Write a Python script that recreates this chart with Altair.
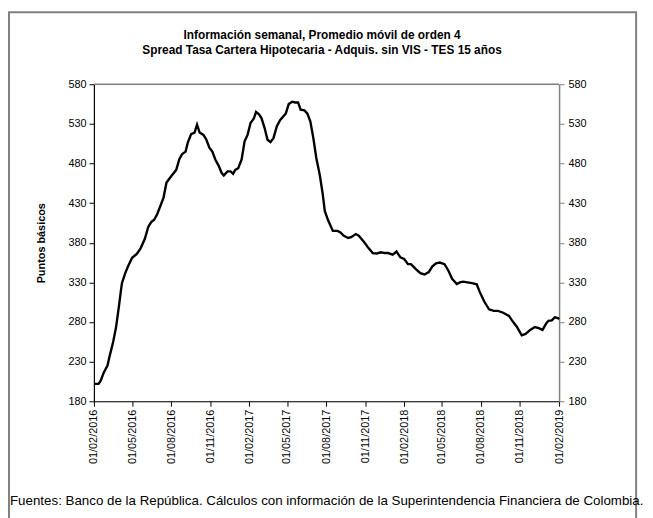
import altair as alt
import pandas as pd

# ---------------- data ----------------
dates = [
    "2016-02-01", "2016-02-12", "2016-02-17", "2016-02-24", "2016-03-04", "2016-03-09",
    "2016-03-17", "2016-03-24", "2016-03-31", "2016-04-04", "2016-04-07", "2016-04-15",
    "2016-04-22", "2016-05-01", "2016-05-12", "2016-05-21", "2016-05-31", "2016-06-08",
    "2016-06-15", "2016-06-22", "2016-06-29", "2016-07-07", "2016-07-14", "2016-07-21",
    "2016-08-01", "2016-08-13", "2016-08-20", "2016-08-27", "2016-09-04", "2016-09-09",
    "2016-09-17", "2016-09-25", "2016-10-01", "2016-10-07", "2016-10-16", "2016-10-23",
    "2016-10-30", "2016-11-06", "2016-11-13", "2016-11-21", "2016-11-28", "2016-12-03",
    "2016-12-12", "2016-12-19", "2016-12-25", "2016-12-30", "2017-01-06", "2017-01-14",
    "2017-01-21", "2017-01-28", "2017-02-04", "2017-02-12", "2017-02-17", "2017-02-24",
    "2017-03-02", "2017-03-09", "2017-03-16", "2017-03-23", "2017-03-30", "2017-04-07",
    "2017-04-15", "2017-04-23", "2017-04-28", "2017-05-05", "2017-05-13", "2017-05-20",
    "2017-05-27", "2017-06-02", "2017-06-11", "2017-06-18", "2017-06-25", "2017-07-02",
    "2017-07-09", "2017-07-17", "2017-07-24", "2017-07-29", "2017-08-06", "2017-08-17",
    "2017-08-28", "2017-09-04", "2017-09-11", "2017-09-22", "2017-09-29", "2017-10-10",
    "2017-10-17", "2017-10-28", "2017-11-08", "2017-11-19", "2017-11-29", "2017-12-08",
    "2017-12-18", "2017-12-25", "2018-01-05", "2018-01-14", "2018-01-23", "2018-02-01",
    "2018-02-10", "2018-02-17", "2018-02-28", "2018-03-11", "2018-03-21", "2018-03-31",
    "2018-04-08", "2018-04-17", "2018-04-26", "2018-05-07", "2018-05-16", "2018-05-25",
    "2018-06-05", "2018-06-12", "2018-06-20", "2018-06-30", "2018-07-11", "2018-07-22",
    "2018-07-29", "2018-08-09", "2018-08-20", "2018-08-31", "2018-09-10", "2018-09-21",
    "2018-10-06", "2018-10-13", "2018-10-24", "2018-11-05", "2018-11-14", "2018-11-25",
    "2018-12-06", "2018-12-15", "2018-12-24", "2019-01-02", "2019-01-07", "2019-01-15",
    "2019-01-22", "2019-01-29", "2019-02-01",
]
spread = [
    202, 202, 206, 216, 225, 237,
    254, 273, 300, 317, 329, 342,
    351, 361, 366, 373, 385, 400,
    406, 409, 416, 427, 437, 456,
    464, 472, 485, 492, 495, 506,
    517, 519, 529, 519, 516, 510,
    500, 495, 485, 477, 468, 465,
    470, 470, 467, 472, 474, 485,
    508, 516, 531, 537, 545, 542,
    537, 525, 510, 507, 512, 527,
    535, 540, 543, 555, 558, 557,
    557, 548, 547, 543, 533, 512,
    487, 466, 442, 420, 408, 395,
    395, 393, 389, 386, 387, 391,
    389, 382, 374, 367, 366.5, 368,
    367, 367, 365, 369, 361.5, 359.5,
    353, 353, 347, 341.6, 340, 343,
    350, 354, 355, 353, 345, 334.6,
    328, 330, 331, 330, 329, 327.5,
    318, 305.5, 296, 294, 294, 292,
    287.7, 282, 274.4, 263.2, 265, 270,
    273.6, 272.3, 270, 278.5, 281.5, 282,
    286, 285, 283.5,
]

title_lines = [
    "Información semanal, Promedio móvil de orden 4",
    "Spread Tasa Cartera Hipotecaria - Adquis. sin VIS -  TES 15 años",
]
y_title = "Puntos básicos"
y_ticks = [180, 230, 280, 330, 380, 430, 480, 530, 580]
x_ticks = [
    (2016, 2, 1), (2016, 5, 1), (2016, 8, 1), (2016, 11, 1),
    (2017, 2, 1), (2017, 5, 1), (2017, 8, 1), (2017, 11, 1),
    (2018, 2, 1), (2018, 5, 1), (2018, 8, 1), (2018, 11, 1),
    (2019, 2, 1),
]
footnote = "Fuentes: Banco de la República. Cálculos con información de la Superintendencia Financiera de Colombia."

# ---------------- chart ----------------
FONT = "Liberation Sans"
W, H = 471, 321
PAD_L, PAD_T = 87, 74
SVG_W, SVG_H = 645, 510

df = pd.DataFrame({"fecha": dates, "spread": spread})


def dt(t):
    return alt.DateTime(year=t[0], month=t[1], date=t[2], utc=True)


x_scale = alt.Scale(type="utc", domain=[dt(x_ticks[0]), dt(x_ticks[-1])], nice=False)
y_scale = alt.Scale(domain=[y_ticks[0], y_ticks[-1]], nice=False, zero=False)

x_axis = alt.Axis(
    values=[dt(t) for t in x_ticks],
    format="%d/%m/%Y",
    labelAngle=-90,
    labelFont=FONT,
    labelFontSize=11,
    labelColor="black",
    labelPadding=3,
    domainColor="black",
    domainWidth=1.2,
    tickColor="black",
    tickSize=5,
    grid=False,
    labelOverlap=False,
)
x_enc = alt.X("fecha:T", scale=x_scale, title=None, axis=x_axis)

line = alt.Chart(df).mark_line(color="black", strokeWidth=2.4).encode(
    x=x_enc,
    y=alt.Y(
        "spread:Q",
        scale=y_scale,
        axis=alt.Axis(
            values=y_ticks,
            orient="left",
            title=y_title,
            titleFont=FONT,
            titleFontSize=11,
            titleFontWeight="bold",
            titleColor="black",
            titlePadding=22,
            labelFont=FONT,
            labelFontSize=11,
            labelColor="black",
            labelPadding=3,
            domainColor="black",
            domainWidth=1.2,
            tickColor="black",
            tickSize=5,
            grid=False,
        ),
    ),
)

right = alt.Chart(df).mark_line(opacity=0).encode(
    x=x_enc,
    y=alt.Y(
        "spread:Q",
        scale=y_scale,
        axis=alt.Axis(
            values=y_ticks,
            orient="right",
            title=None,
            labelFont=FONT,
            labelFontSize=11,
            labelColor="black",
            labelPadding=4,
            domainColor="#808080",
            domainWidth=1.5,
            tickColor="#808080",
            tickSize=5,
            grid=False,
        ),
    ),
)

one = pd.DataFrame({"k": [0]})

frame = alt.Chart(one).mark_rect(
    fill="transparent", stroke="#808080", strokeWidth=2
).encode(
    x=alt.value(9 - 8 - PAD_L), y=alt.value(9 - 8 - PAD_T),
    x2=alt.value(644 - 8 - PAD_L), y2=alt.value(540 - 8 - PAD_T),
)

top_border = alt.Chart(one).mark_rule(color="#808080", strokeWidth=1.5).encode(
    x=alt.value(0), x2=alt.value(W), y=alt.value(0)
)

title_x = 326 - 8 - PAD_L
title1 = alt.Chart(pd.DataFrame({"t": [title_lines[0]]})).mark_text(
    font=FONT, fontSize=12, fontWeight="bold", align="center", baseline="middle", color="black"
).encode(x=alt.value(title_x), y=alt.value(-50), text="t:N")
title2 = alt.Chart(pd.DataFrame({"t": [title_lines[1]]})).mark_text(
    font=FONT, fontSize=12, fontWeight="bold", align="center", baseline="middle", color="black"
).encode(x=alt.value(title_x), y=alt.value(-35), text="t:N")

note = alt.Chart(pd.DataFrame({"t": [footnote]})).mark_text(
    font=FONT, fontSize=13.5, align="left", baseline="middle", color="black"
).encode(x=alt.value(10 - 8 - PAD_L), y=alt.value(504 - 8 - PAD_T), text="t:N")

chart = (
    alt.layer(frame, top_border, line, right, title1, title2, note)
    .resolve_axis(y="independent")
    .resolve_scale(y="independent")
    .properties(
        width=W,
        height=H,
        padding={"left": PAD_L, "top": PAD_T, "right": SVG_W - PAD_L - W, "bottom": SVG_H - PAD_T - H},
        autosize=alt.AutoSizeParams(type="none"),
    )
    .configure_view(stroke=None)
    .configure(background="white")
)

chart.save("out.html", embed_options={"renderer": "svg", "actions": False})
